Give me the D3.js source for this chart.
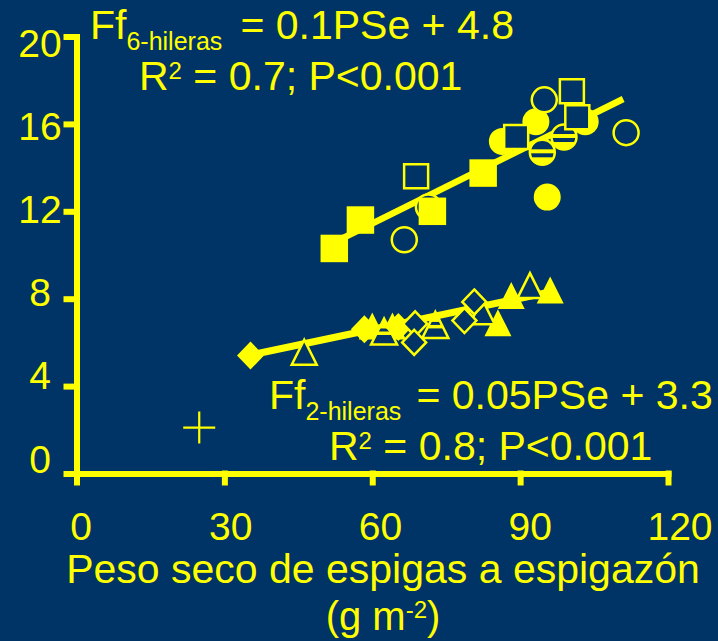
<!DOCTYPE html>
<html><head><meta charset="utf-8">
<script src="https://cdn.jsdelivr.net/npm/d3@7"></script>
<style>html,body{margin:0;padding:0;background:#003366;overflow:hidden}svg{display:block}</style>
</head><body>
<svg id="chart" width="718" height="641"></svg>
<script>
// ---------- data ----------
const xTicks = [0, 30, 60, 90, 120];
const yTicks = [0, 4, 8, 12, 16, 20];

// Seis hileras (6-row)
const sixFilledSquares  = [[52.3,10.3],[57.6,11.6],[72.2,12.0],[82.5,13.75]];
const sixOpenSquares    = [[68.9,13.6],[89.2,15.4],[100.5,17.5],[101.6,16.3]];
const sixFilledCircles  = [[86.4,15.2],[93.2,16.1],[103.2,16.1],[95.5,12.65]];
const sixOpenCircles    = [[94.9,17.1],[111.5,15.6],[66.5,10.7],[71.4,12.2]];
const sixStripedCircles = [[94.5,14.7],[98.9,15.4]];
const sixFitLine        = [[52.5,10.6],[110.9,17.14]];

// Dos hileras (2-row)
const twoFilledDiamonds   = [[35.3,5.4],[58.4,6.6],[65.3,6.7]];
const twoOpenDiamonds     = [[68.7,6.85],[68.5,6.0],[80.7,7.85],[78.7,7.0]];
const twoFilledTriangles  = [[60.0,6.75],[64.1,6.75],[85.5,6.9],[88.2,8.15],[96.1,8.4]];
const twoOpenTriangles    = [[46.2,5.55],[82.3,7.4],[92.0,8.6]];
const twoStripedTriangles = [[62.4,6.5],[72.8,6.8]];
const twoFitLine          = [[36.3,5.47],[95.1,8.26]];

const crossPoints = [[24.9,2.1]];

const eqSix = {sub: "6-hileras", rhs: " = 0.1PSe + 4.8", r2: " = 0.7; P<0.001"};
const eqTwo = {sub: "2-hileras", rhs: " = 0.05PSe + 3.3", r2: " = 0.8; P<0.001"};

// ---------- drawing ----------
const BG = "#003366", FG = "#FFFF00";
const FONT = "'Liberation Sans', Arial, Helvetica, sans-serif";
const svg = d3.select("#chart");
svg.append("rect").attr("width",718).attr("height",641).attr("fill",BG);

const x = d3.scaleLinear().domain([0,120]).range([76.5, 668]);
const y = d3.scaleLinear().domain([0,20]).range([473.5, 36.5]);
// label placement scales (labels sit slightly offset from ticks in the original)
const xLab = d3.scaleLinear().domain([0,120]).range([81, 680]);
const yLab = d3.scaleLinear().domain([0,20]).range([458.5, 43]);

const defs = svg.append("defs");
const TRI_W = 26, TRI_H = 26, CIR_R = 12.5;
const triPath = (w,h) => `M0,${-h/2}L${w/2},${h/2}L${-w/2},${h/2}Z`;
const diaPath = (w,h) => `M0,${-h/2}L${w/2},0L0,${h/2}L${-w/2},0Z`;
const sqPath  = s => `M${-s/2},${-s/2}h${s}v${s}h${-s}Z`;
defs.append("clipPath").attr("id","clipCircle").append("circle").attr("r",CIR_R);
defs.append("clipPath").attr("id","clipTri").append("path").attr("d",triPath(TRI_W,TRI_H));

// axes
const xAxis = svg.append("g").attr("transform",`translate(0,${y(0)})`)
  .call(d3.axisBottom(x).tickValues(xTicks).tickSize(9).tickSizeOuter(0).tickFormat(""));
const yAxis = svg.append("g").attr("transform",`translate(${x(0)},0)`)
  .call(d3.axisLeft(y).tickValues(yTicks).tickSize(10).tickSizeOuter(0).tickFormat(""));
[xAxis,yAxis].forEach(a=>{
  a.selectAll("path,line").attr("stroke",FG).attr("stroke-width",6).attr("stroke-linecap","square");
});

// tick labels
svg.append("g").selectAll("text").data(xTicks).join("text")
  .attr("x", d=>xLab(d)).attr("y", 540).attr("text-anchor","middle")
  .attr("font-family",FONT).attr("font-size",39).attr("fill",FG).text(d=>d);
svg.append("g").selectAll("text").data(yTicks).join("text")
  .attr("x", 40).attr("y", d=>yLab(d)+14).attr("text-anchor","middle")
  .attr("font-family",FONT).attr("font-size",39).attr("fill",FG).text(d=>d);

// axis title
svg.append("text").attr("x",383).attr("y",583).attr("text-anchor","middle")
  .attr("font-family",FONT).attr("font-size",41).attr("fill",FG)
  .text("Peso seco de espigas a espigazón");
const t2 = svg.append("text").attr("x",383).attr("y",630).attr("text-anchor","middle")
  .attr("font-family",FONT).attr("font-size",40).attr("fill",FG);
t2.append("tspan").text("(g m");
t2.append("tspan").attr("font-size",24).attr("dy",-12).text("-2");
t2.append("tspan").attr("dy",12).text(")");

// fit lines
const line = d3.line().x(d=>x(d[0])).y(d=>y(d[1]));
svg.append("path").datum(sixFitLine).attr("d",line).attr("stroke",FG).attr("stroke-width",6.5).attr("fill","none");
svg.append("path").datum(twoFitLine).attr("d",line).attr("stroke",FG).attr("stroke-width",7).attr("fill","none");

function markers(data, draw){
  return svg.append("g").selectAll("g").data(data).join("g")
    .attr("transform", d=>`translate(${x(d[0])},${y(d[1])})`).each(function(){ draw(d3.select(this)); });
}
const filledPath = d => g => g.append("path").attr("d",d).attr("fill",FG);
const openPath = d => g => g.append("path").attr("d",d).attr("fill",BG).attr("stroke",FG).attr("stroke-width",2.5);

// 6-row markers
markers(sixFilledCircles, g=>g.append("circle").attr("r",13.5).attr("fill",FG));
markers(sixStripedCircles, g=>{
  g.append("circle").attr("r",CIR_R).attr("fill",BG);
  const s = g.append("g").attr("clip-path","url(#clipCircle)");
  s.append("rect").attr("x",-14).attr("width",28).attr("y",-3).attr("height",4).attr("fill",FG);
  s.append("rect").attr("x",-14).attr("width",28).attr("y",5).attr("height",9).attr("fill",FG);
  g.append("circle").attr("r",CIR_R).attr("fill","none").attr("stroke",FG).attr("stroke-width",2.5);
});
markers(sixOpenCircles, g=>g.append("circle").attr("r",CIR_R).attr("fill",BG).attr("stroke",FG).attr("stroke-width",2.5));
markers(sixFilledSquares, filledPath(sqPath(27.5)));
markers(sixOpenSquares, openPath(sqPath(24)));

// 2-row markers
markers(twoFilledTriangles, filledPath(triPath(TRI_W+1,TRI_H+1)));
markers(twoStripedTriangles, g=>{
  g.append("path").attr("d",triPath(TRI_W,TRI_H)).attr("fill",BG);
  const s = g.append("g").attr("clip-path","url(#clipTri)");
  s.append("rect").attr("x",-14).attr("width",28).attr("y",-14).attr("height",11).attr("fill",FG);
  s.append("rect").attr("x",-14).attr("width",28).attr("y",0).attr("height",3.5).attr("fill",FG);
  g.append("path").attr("d",triPath(TRI_W,TRI_H)).attr("fill","none").attr("stroke",FG).attr("stroke-width",2.5);
});
markers(twoOpenTriangles, openPath(triPath(TRI_W-1,TRI_H-1)));
markers(twoFilledDiamonds, filledPath(diaPath(27,28)));
markers(twoOpenDiamonds, openPath(diaPath(24,25)));

// cross
markers(crossPoints, g=>g.append("path").attr("d","M-16,0H16M0,-16V16").attr("stroke",FG).attr("stroke-width",2.2).attr("fill","none"));

// equations
function equation(eq, fx, fy, eqX, rx, ry){
  const a = svg.append("text").attr("font-family",FONT).attr("font-size",41).attr("fill",FG);
  a.append("tspan").attr("x",fx).attr("y",fy).text("Ff");
  a.append("tspan").attr("y",fy+11).attr("font-size",25).text(eq.sub);
  a.append("tspan").attr("x",eqX).attr("y",fy).style("white-space","pre").text(eq.rhs);
  const b = svg.append("text").attr("font-family",FONT).attr("font-size",41).attr("fill",FG);
  b.append("tspan").attr("x",rx).attr("y",ry).text("R");
  b.append("tspan").attr("y",ry-11).attr("font-size",24).text("2");
  b.append("tspan").attr("y",ry).style("white-space","pre").text(eq.r2);
}
equation(eqSix, 90, 39, 229, 139, 90);
equation(eqTwo, 269, 409, 405, 329, 460);
</script>
</body></html>
